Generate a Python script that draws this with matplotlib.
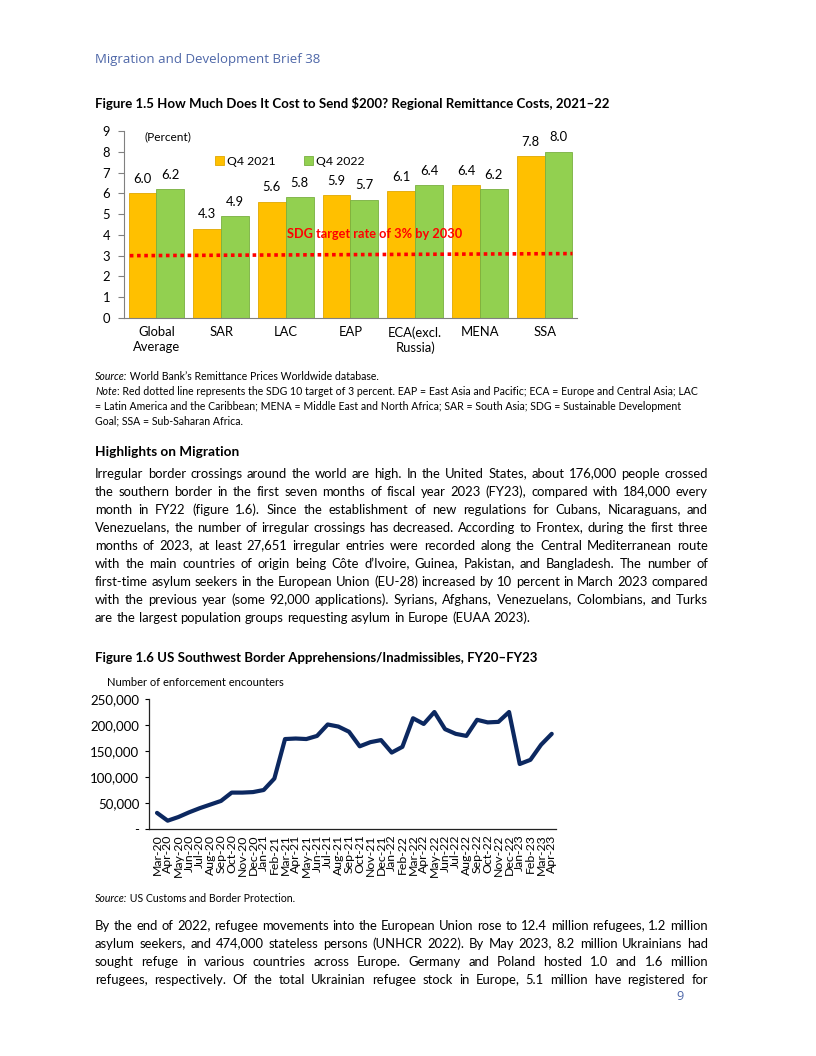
import math
import numpy as np
import matplotlib
matplotlib.use("Agg")
import matplotlib.pyplot as plt
from matplotlib.font_manager import FontProperties

# ---------------- data ----------------
categories = ['Global\nAverage', 'SAR', 'LAC', 'EAP', 'ECA(excl.\nRussia)', 'MENA', 'SSA']
q4_2021 = [6.0, 4.3, 5.6, 5.9, 6.1, 6.4, 7.8]
q4_2022 = [6.2, 4.9, 5.8, 5.7, 6.4, 6.2, 8.0]
sdg_target = [3.0, 3.1]

months = ['Mar-20', 'Apr-20', 'May-20', 'Jun-20', 'Jul-20', 'Aug-20', 'Sep-20', 'Oct-20',
          'Nov-20', 'Dec-20', 'Jan-21', 'Feb-21', 'Mar-21', 'Apr-21', 'May-21', 'Jun-21',
          'Jul-21', 'Aug-21', 'Sep-21', 'Oct-21', 'Nov-21', 'Dec-21', 'Jan-22', 'Feb-22',
          'Mar-22', 'Apr-22', 'May-22', 'Jun-22', 'Jul-22', 'Aug-22', 'Sep-22', 'Oct-22',
          'Nov-22', 'Dec-22', 'Jan-23', 'Feb-23', 'Mar-23', 'Apr-23']
encounters = [31000, 16000, 23000, 32000, 40000, 47000, 54000, 70000,
              70000, 71000, 75000, 97000, 173000, 174000, 173000, 179000,
              201000, 197000, 187000, 159000, 167000, 171000, 147000, 158000,
              213000, 202000, 225000, 192000, 183000, 179000, 210000, 205000,
              206000, 225000, 125000, 133000, 162000, 183000]
y_ticks = [0, 50000, 100000, 150000, 200000, 250000]
y_tick_labels = ['-', '50,000', '100,000', '150,000', '200,000', '250,000']

# ---------------- text ----------------
header = "Migration and Development Brief 38"
title1 = "Figure 1.5 How Much Does It Cost to Send $200? Regional Remittance Costs, 2021\u201322"
title2 = "Figure 1.6 US Southwest Border Apprehensions/Inadmissibles, FY20\u2013FY23"
heading = "Highlights on Migration"
note_lines = [
    [("Source:", 'italic'), (" World Bank\u2019s Remittance Prices Worldwide database.", 'normal')],
    [("Note", 'italic'), (": Red dotted line represents the SDG 10 target of 3 percent. EAP = East Asia and Pacific; ECA = Europe and Central Asia; LAC", 'normal')],
    [("= Latin America and the Caribbean; MENA = Middle East and North Africa; SAR = South Asia; SDG = Sustainable Development", 'normal')],
    [("Goal; SSA = Sub-Saharan Africa.", 'normal')],
]
source2 = [("Source:", 'italic'), (" US Customs and Border Protection.", 'normal')]
para1 = [
    "Irregular border crossings around the world are high. In the United States, about 176,000 people crossed",
    "the southern border in the first seven months of fiscal year 2023 (FY23), compared with 184,000 every",
    "month in FY22 (figure 1.6). Since the establishment of new regulations for Cubans, Nicaraguans, and",
    "Venezuelans, the number of irregular crossings has decreased. According to Frontex, during the first three",
    "months of 2023, at least 27,651 irregular entries were recorded along the Central Mediterranean route",
    "with the main countries of origin being C\u00f4te d\u2019Ivoire, Guinea, Pakistan, and Bangladesh. The number of",
    "first-time asylum seekers in the European Union (EU-28) increased by 10 percent in March 2023 compared",
    "with the previous year (some 92,000 applications). Syrians, Afghans, Venezuelans, Colombians, and Turks",
    "are the largest population groups requesting asylum in Europe (EUAA 2023).",
]
para2 = [
    "By the end of 2022, refugee movements into the European Union rose to 12.4 million refugees, 1.2 million",
    "asylum seekers, and 474,000 stateless persons (UNHCR 2022). By May 2023, 8.2 million Ukrainians had",
    "sought refuge in various countries across Europe. Germany and Poland hosted 1.0 and 1.6 million",
    "refugees, respectively. Of the total Ukrainian refugee stock in Europe, 5.1 million have registered for",
]

W, H = 816, 1056
DPI = 100
FAM = 'Lato'
fig = plt.figure(figsize=(W / DPI, H / DPI), dpi=DPI)
fig.patch.set_facecolor('white')
renderer = fig.canvas.get_renderer()
PX = DPI / 72.0

try:
    from matplotlib.backends.backend_agg import get_hinting_flag
except Exception:  # pragma: no cover
    get_hinting_flag = None


def fp(size, weight='normal', style='normal', family=FAM):
    return FontProperties(family=family, size=size, weight=weight, style=style)


def tw(s, prop):
    w, h, d = renderer.get_text_width_height_descent(s, prop, ismath=False)
    return w


def space_w(prop):
    return tw('a a', prop) - tw('aa', prop)


def fit_size(s, target, weight='normal', style='normal', family=FAM, base=10.0):
    return base * target / tw(s, fp(base, weight, style, family))


def snapped_baseline(yb, s, prop):
    """Compensate the raster placement of Agg so all words share one baseline row."""
    try:
        font = renderer._prepare_font(prop)
        font.set_text(s, 0, flags=get_hinting_flag())
        _, h26 = font.get_width_height()
        d26 = font.get_descent()
        A = (h26 - d26) / 64.0
        d = d26 / 64.0
        R = round(yb)
        return R + math.floor(A + d) - math.floor(A) - d
    except Exception:
        return yb


def put(x, y, s, prop, color='black'):
    # y is the visual centre of the line (page px from top)
    yb = y + 0.33 * prop.get_size_in_points() * PX
    yb = snapped_baseline(yb, s, prop)
    fig.text(x / W, 1 - yb / H, s, fontproperties=prop, color=color, ha='left', va='baseline')


def put_segments(x, y, segs, size, color='black'):
    for s, style in segs:
        p = fp(size, style=style)
        put(x, y, s, p, color)
        x += tw(s, p)


def natural_width(line, prop):
    words = line.split(' ')
    return sum(tw(w, prop) for w in words) + space_w(prop) * (len(words) - 1)


def draw_lines(lines, y0, dy, x0, x1, prop, justify_last=False, color='black'):
    for i, line in enumerate(lines):
        y = y0 + i * dy
        words = line.split(' ')
        widths = [tw(w, prop) for w in words]
        last = (i == len(lines) - 1)
        if (not last or justify_last) and len(words) > 1:
            gap = (x1 - x0 - sum(widths)) / (len(words) - 1)
        else:
            gap = space_w(prop)
        x = x0
        for w, wd in zip(words, widths):
            put(x, y, w, prop, color)
            x += wd + gap


# ---------------- page text ----------------
hdr_size = fit_size(header, 224, family='Open Sans')
put(95, 59, header, fp(hdr_size, family='Open Sans'), color='#4E67A8')

t_size = fit_size(title1, 515, weight='bold')
put(95, 104, title1, fp(t_size, 'bold'))
put(95, 658, title2, fp(t_size, 'bold'))
put(95, 451, heading, fp(t_size * 1.03, 'bold'))

note_size = 10.0 * 602 / (tw("Note", fp(10, style='italic')) +
                          tw(note_lines[1][1][0], fp(10)))
for i, segs in enumerate(note_lines):
    put_segments(95, 377 + i * 14.7, segs, note_size)
put_segments(95, 899, source2, note_size)

base = fp(10)
ratio = max(natural_width(l, base) for l in para1[:-1] + para2) / 612.0
body = fp(10.0 / ratio * 0.995)
draw_lines(para1, 474, 18.0, 95, 708, body)
draw_lines(para2, 926, 18.0, 95, 708, body, justify_last=True)
put(676, 996, "9", fp(hdr_size * 0.95, family='Open Sans'), color='#4E67A8')

# ---------------- Figure 1.5: bar chart ----------------
ax1 = fig.add_axes([124 / W, 1 - 318 / H, 453 / W, 187 / H])
x = np.arange(len(categories))
bw = 0.43
b1 = ax1.bar(x - bw / 2, q4_2021, bw, color='#FFC000', edgecolor='#E0A800', linewidth=0.6, label='Q4 2021')
b2 = ax1.bar(x + bw / 2, q4_2022, bw, color='#92D050', edgecolor='#78B040', linewidth=0.6, label='Q4 2022')
lab_size = 9.4
ax1.bar_label(b1, labels=[f'{v:.1f}' for v in q4_2021], padding=6, fontsize=lab_size, family=FAM)
ax1.bar_label(b2, labels=[f'{v:.1f}' for v in q4_2022], padding=6, fontsize=lab_size, family=FAM)
ax1.plot([-0.41, 6.43], sdg_target, color='#FF0000', lw=2.6, linestyle=(0, (1.0, 1.0)),
         dash_capstyle='butt')
ax1.text(3.38, 4.05, 'SDG target rate of 3% by 2030', color='#FF0000', fontsize=9.2,
         fontweight='bold', family=FAM, ha='center', va='center')
ax1.text(0.046, 8.72, '(Percent)', fontsize=8.6, family=FAM, ha='left', va='center',
         transform=ax1.get_yaxis_transform())
ax1.set_xlim(-0.5, 6.5)
ax1.set_ylim(0, 9)
ax1.set_yticks(range(0, 10))
ax1.set_xticks(x)
ax1.set_xticklabels(categories, fontsize=lab_size, family=FAM, linespacing=1.25)
for lbl in ax1.get_yticklabels():
    lbl.set_fontsize(lab_size)
    lbl.set_family(FAM)
ax1.tick_params(axis='x', length=0, pad=6)
ax1.tick_params(axis='y', length=4, width=0.8, color='#808080', pad=6)
for s in ['top', 'right']:
    ax1.spines[s].set_visible(False)
for s in ['left', 'bottom']:
    ax1.spines[s].set_color('#808080')
    ax1.spines[s].set_linewidth(0.8)
ax1.legend(loc='center left', bbox_to_anchor=(0.2, 0.838), ncol=2, frameon=False,
           handlelength=0.75, handleheight=0.75, handletextpad=0.25, columnspacing=2.3,
           borderaxespad=0, borderpad=0, prop=fp(8.8))

# ---------------- Figure 1.6: line chart ----------------
ax2 = fig.add_axes([149 / W, 1 - 829 / H, 407 / W, 130 / H])
xi = np.arange(len(months))
ax2.plot(xi, encounters, color='#0C2860', lw=3.0, solid_joinstyle='round', solid_capstyle='round')
ax2.set_xlim(-0.75, 37.4)
ax2.set_ylim(0, 250000)
ax2.set_yticks(y_ticks)
ax2.set_yticklabels(y_tick_labels, fontsize=9.5, family=FAM)
ax2.set_xticks(xi)
ax2.set_xticklabels(months, rotation=90, fontsize=8.8, family=FAM, linespacing=1.0)
ax2.tick_params(axis='x', length=0, pad=4)
ax2.tick_params(axis='y', length=3, width=0.8, pad=4)
for s in ['top', 'right']:
    ax2.spines[s].set_visible(False)
for s in ['left', 'bottom']:
    ax2.spines[s].set_color('#222222')
    ax2.spines[s].set_linewidth(0.9)
put(107, 682, "Number of enforcement encounters", fp(fit_size("Number of enforcement encounters", 176)))

fig.savefig('out.png', dpi=DPI)
